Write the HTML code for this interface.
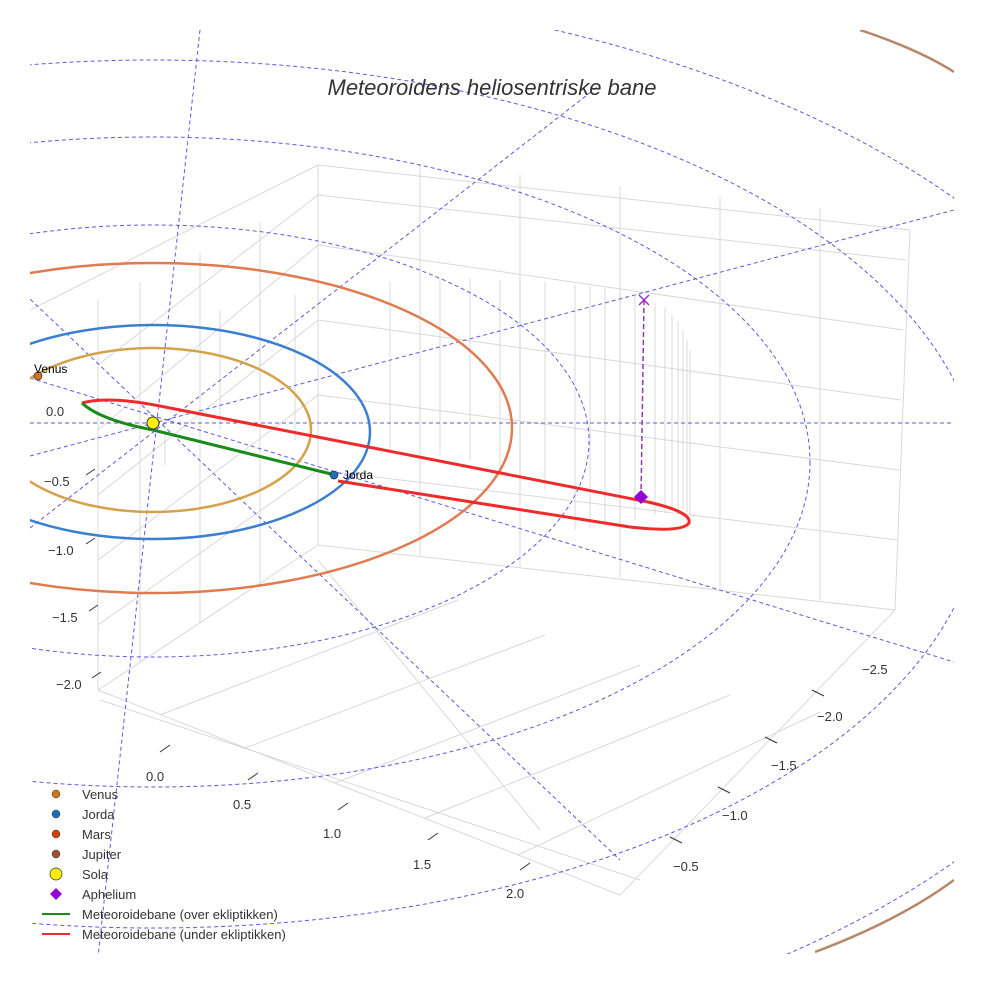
<!DOCTYPE html>
<html><head><meta charset="utf-8"><style>
html,body{margin:0;background:#fff;overflow:hidden;width:984px;height:984px}
svg{display:block;font-family:"Liberation Sans",sans-serif}
</style></head><body>
<svg width="984" height="984" viewBox="0 0 984 984" xmlns="http://www.w3.org/2000/svg">
<defs><clipPath id="c"><rect x="30" y="30" width="924" height="924"/></clipPath></defs>
<rect width="984" height="984" fill="#fff"/>
<g clip-path="url(#c)">
<!-- box walls grid -->
<g stroke="#d8d8d8" stroke-width="1" fill="none">
<path d="M98,690 L318,545 L895,610 M318,545 L318,165 M98,690 L98,300 M895,610 L910,230 M318,165 L30,310 M318,165 L910,230 M98,690 L620,895 L895,610"/>
<path d="M98,625 L318,470 L897,540 M98,560 L318,395 L899,470 M98,495 L318,320 L901,400 M98,430 L318,245 L903,330 M98,365 L318,195 L906,260"/>
<path d="M420,165 L420,555 M520,175 L520,567 M620,186 L620,578 M720,197 L720,589 M820,208 L820,600"/>
<path d="M140,282 L140,662 M200,252 L200,623 M260,222 L260,583"/>
<path d="M160,715 L458,600 M245,748 L545,635 M335,783 L640,665 M425,818 L730,695 M518,855 L820,712"/>
<path d="M540,830 L318,560 M640,880 L100,700"/>
</g>
<!-- stems -->
<g stroke="#d0d0d0" stroke-width="0.8">
<path d="M575,285 L575,530 M590,286 L590,528 M605,288 L605,526 M620,292 L620,523 M635,296 L635,520 M655,303 L655,515 M665,308 L665,513 M672,315 L672,511 M678,322 L678,510 M683,330 L683,510 M687,340 L687,512 M690,350 L690,515 M500,280 L500,470 M470,278 L470,460 M440,278 L440,455 M390,282 L390,450 M295,295 L295,440 M260,300 L260,420 M220,310 L220,430 M165,430 L165,465 M545,282 L545,490 M520,280 L520,480"/>
</g>
<!-- dashed grid ellipses and radial -->
<g stroke="#5a5ae0" stroke-width="1" stroke-dasharray="4,3" fill="none">
<ellipse cx="153" cy="441" rx="436" ry="216"/>
<ellipse cx="153" cy="462" rx="657" ry="325"/>
<ellipse cx="153" cy="494" rx="830" ry="434"/>
<ellipse cx="153" cy="530" rx="1010" ry="545"/>
<path d="M30,423 L954,423 M200,30 L95,984 M10,280 L620,860 M30,456 L954,210 M30,378 L954,662 M30,528 L600,85"/>
</g>
<!-- planet orbits -->
<ellipse cx="153" cy="430" rx="158" ry="82" fill="none" stroke="#d4a24c" stroke-width="2.5"/>
<ellipse cx="153" cy="432" rx="217" ry="107" fill="none" stroke="#3a7fd0" stroke-width="2.5"/>
<ellipse cx="153" cy="428" rx="359" ry="165" fill="none" stroke="#e07a50" stroke-width="2.5"/>
<path d="M860,30 Q920,50 954,72 M815,952 Q900,920 954,880" fill="none" stroke="#b8876a" stroke-width="2.5"/>
<!-- meteoroid -->
<path d="M338,481 L630,527 Q682,533 689,523 Q692,512 648,502 L170,408 Q110,395 82,403" fill="none" stroke="#ee2a2a" stroke-width="3"/>
<path d="M82,403 Q100,420 153,430 L335,475" fill="none" stroke="#1a8a1a" stroke-width="3"/>
<line x1="644" y1="300" x2="641" y2="497" stroke="#9b30c0" stroke-width="1.5" stroke-dasharray="5,3"/>
<path d="M639,295 L649,305 M649,295 L639,305" stroke="#9b30c0" stroke-width="1.5"/>
<path d="M641,490 L648,497 L641,504 L634,497Z" fill="#9400d3"/>
<circle cx="153" cy="423" r="6" fill="#ffef00" stroke="#333" stroke-width="1"/>
<circle cx="38" cy="376" r="4" fill="#c8781e" stroke="#333" stroke-width="0.7"/>
<circle cx="334" cy="475" r="4" fill="#1f6fb4" stroke="#333" stroke-width="0.7"/>
<text x="34" y="373" font-size="12">Venus</text>
<text x="343" y="479" font-size="12">Jorda</text>
</g>
<text x="492" y="95" text-anchor="middle" font-size="22" font-style="italic" fill="#333">Meteoroidens heliosentriske bane</text>
<!-- ticks -->
<g font-size="13" fill="#333">
<text x="46" y="416">0.0</text><text x="44" y="486">−0.5</text><text x="48" y="555">−1.0</text><text x="52" y="622">−1.5</text><text x="56" y="689">−2.0</text>
<text x="146" y="781">0.0</text><text x="233" y="809">0.5</text><text x="323" y="838">1.0</text><text x="413" y="869">1.5</text><text x="506" y="898">2.0</text>
<text x="862" y="674">−2.5</text><text x="817" y="721">−2.0</text><text x="771" y="770">−1.5</text><text x="722" y="820">−1.0</text><text x="673" y="871">−0.5</text>
</g>
<g stroke="#333" stroke-width="1">
<path d="M86,475 L95,469 M86,544 L95,538 M89,611 L98,605 M92,678 L101,672 M160,752 L170,745 M248,780 L258,773 M338,810 L348,803 M428,840 L438,833 M520,870 L530,863 M812,690 L824,696 M765,737 L777,743 M718,787 L730,793 M670,837 L682,843"/>
</g>
<!-- legend -->
<g font-size="13" fill="#333">
<circle cx="56" cy="794" r="4" fill="#c8781e" stroke="#333" stroke-width="0.5"/><text x="82" y="799">Venus</text>
<circle cx="56" cy="814" r="4" fill="#1f6fb4" stroke="#333" stroke-width="0.5"/><text x="82" y="819">Jorda</text>
<circle cx="56" cy="834" r="4" fill="#d04010" stroke="#333" stroke-width="0.5"/><text x="82" y="839">Mars</text>
<circle cx="56" cy="854" r="4" fill="#a0522d" stroke="#333" stroke-width="0.5"/><text x="82" y="859">Jupiter</text>
<circle cx="56" cy="874" r="6" fill="#ffef00" stroke="#333" stroke-width="0.7"/><text x="82" y="879">Sola</text>
<path d="M56,888 L62,894 L56,900 L50,894Z" fill="#9400d3"/><text x="82" y="899">Aphelium</text>
<line x1="42" y1="914" x2="70" y2="914" stroke="#1a8a1a" stroke-width="2"/><text x="82" y="919">Meteoroidebane (over ekliptikken)</text>
<line x1="42" y1="934" x2="70" y2="934" stroke="#ee2a2a" stroke-width="2"/><text x="82" y="939">Meteoroidebane (under ekliptikken)</text>
</g>
</svg>
</body></html>
